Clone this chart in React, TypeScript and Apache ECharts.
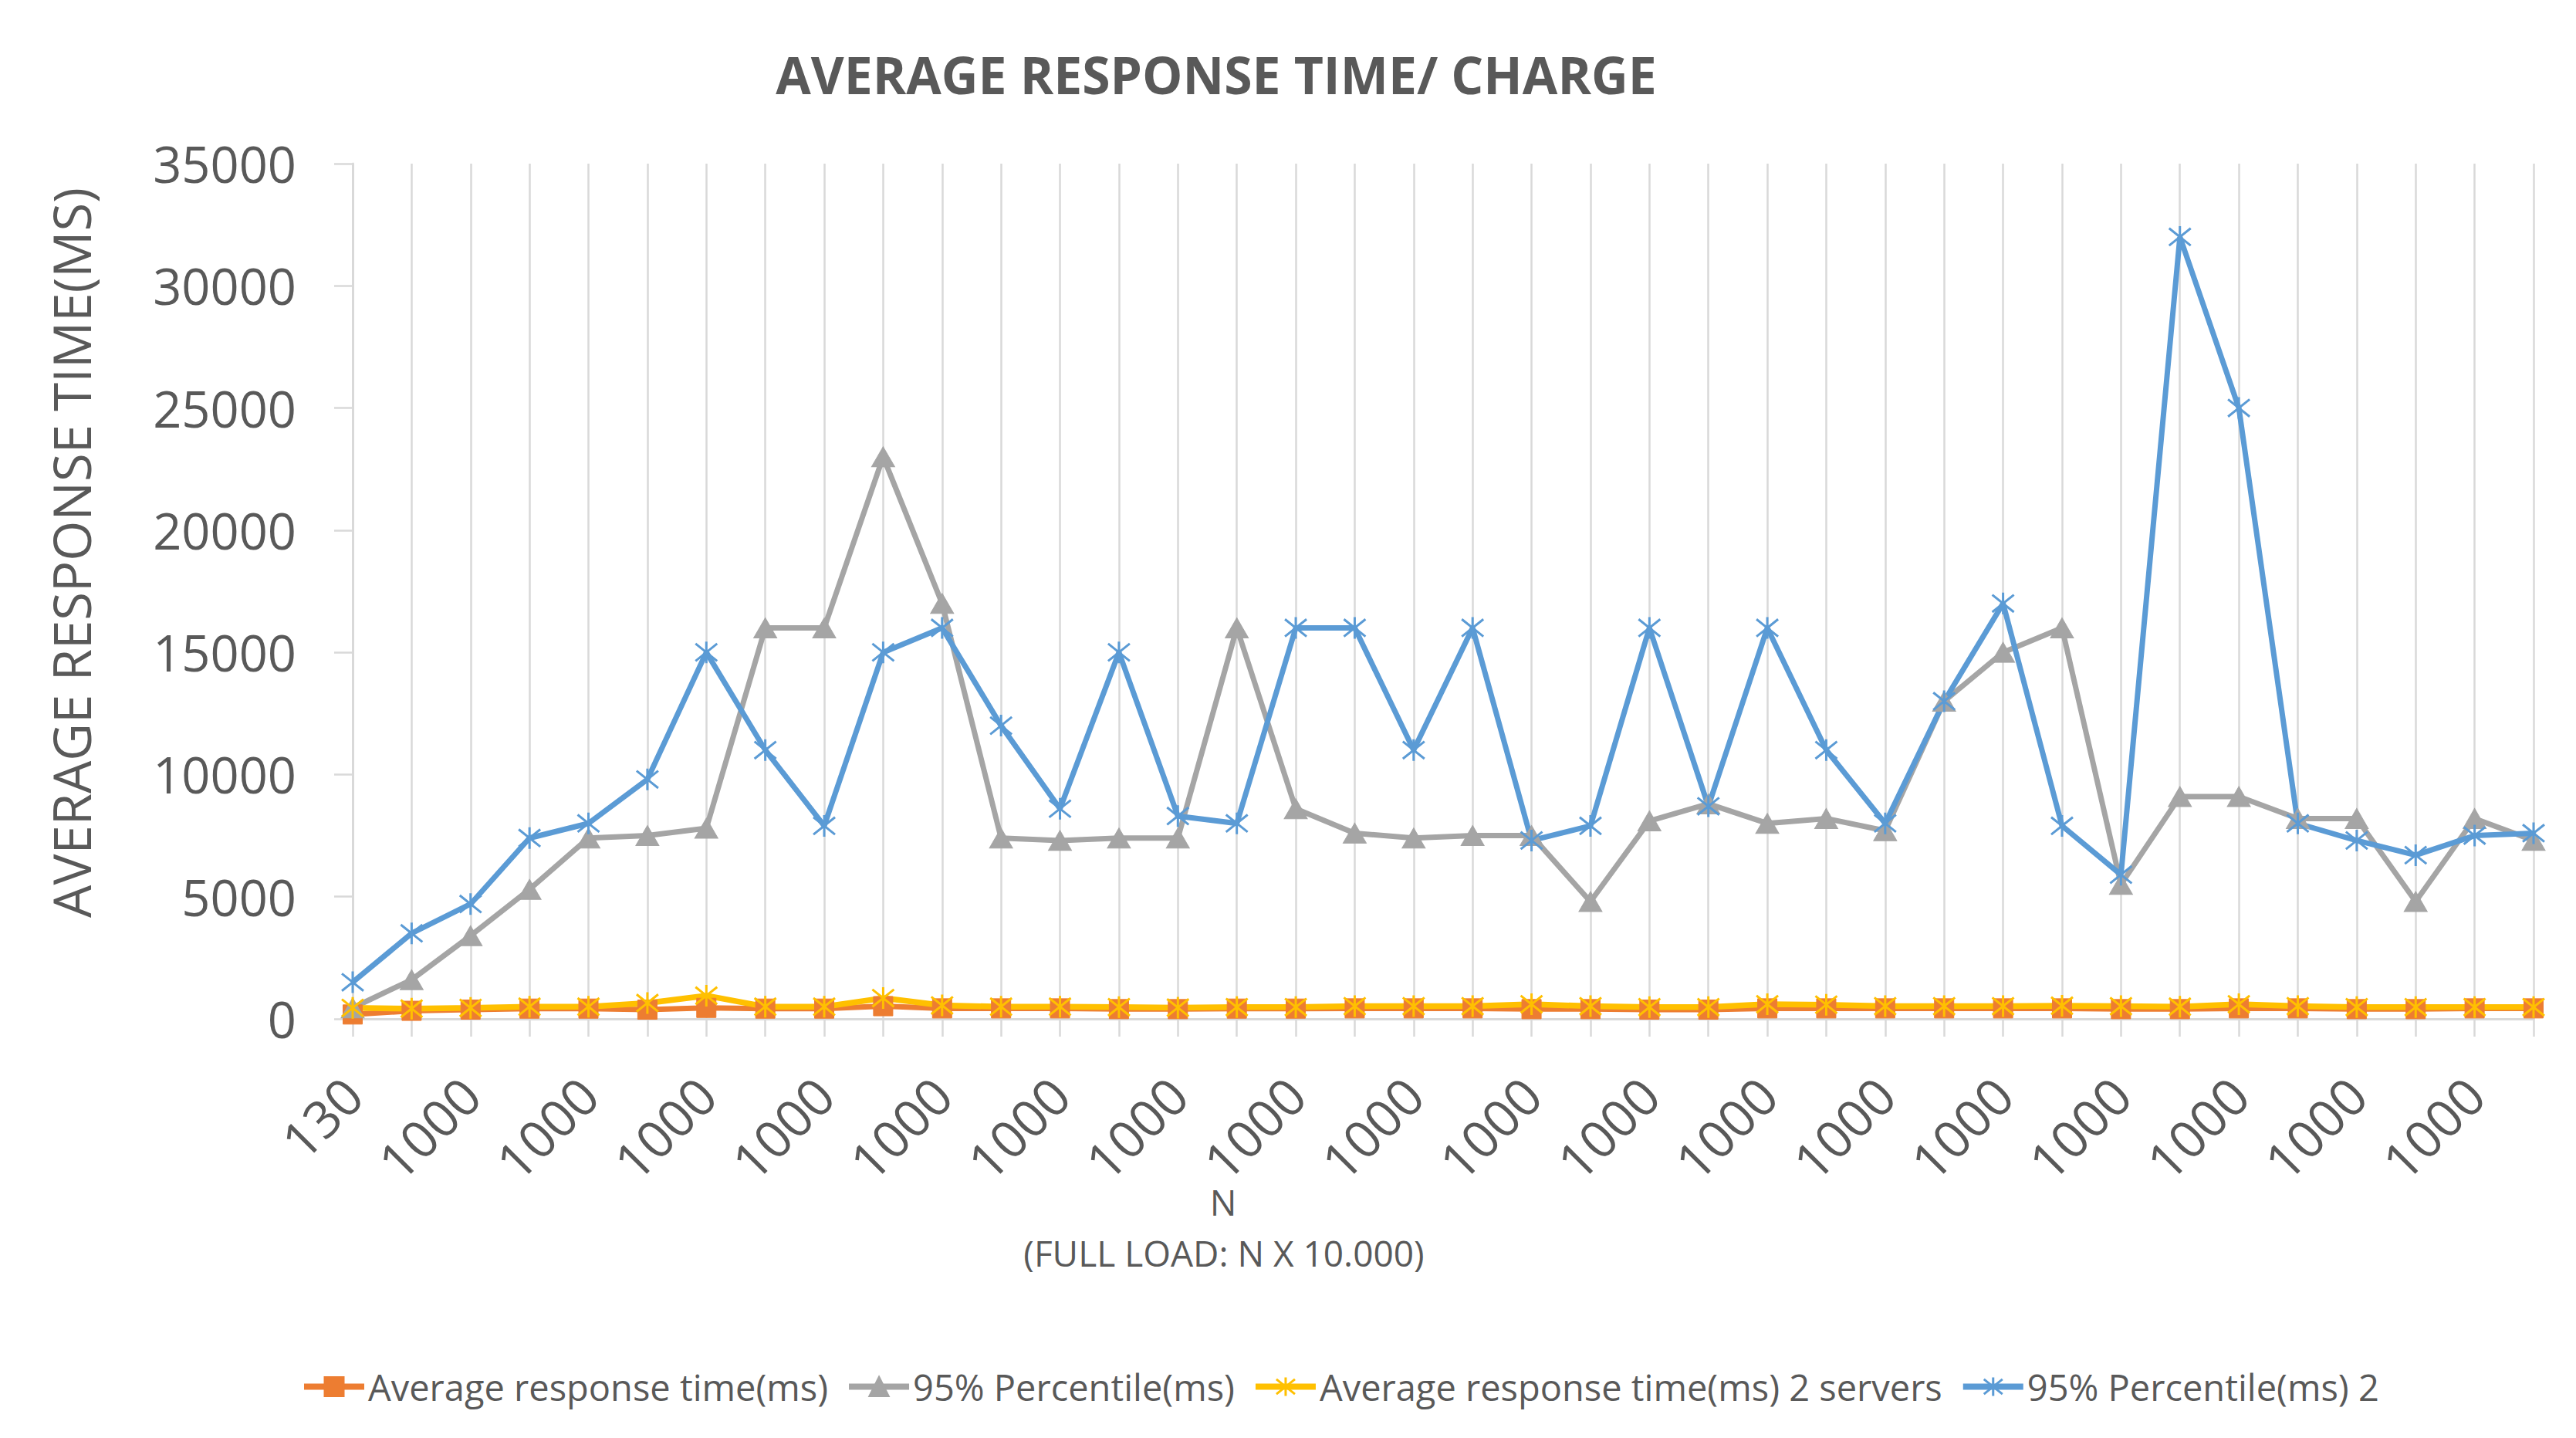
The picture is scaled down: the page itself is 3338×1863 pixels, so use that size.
import React, { useEffect, useRef } from "react";
import * as echarts from "echarts";

// ---------- data ----------
const chartTitle = "AVERAGE RESPONSE TIME/ CHARGE";
const yAxisTitle = "AVERAGE RESPONSE TIME(MS)";
const xAxisTitle = "N";
const xAxisSubtitle = "(FULL LOAD: N X 10.000)";

const categories = [
  "130", "1000", "1000", "1000", "1000", "1000", "1000", "1000", "1000", "1000",
  "1000", "1000", "1000", "1000", "1000", "1000", "1000", "1000", "1000", "1000",
  "1000", "1000", "1000", "1000", "1000", "1000", "1000", "1000", "1000", "1000",
  "1000", "1000", "1000", "1000", "1000", "1000", "1000", "1000",
];

const seriesNames = [
  "Average response time(ms)",
  "95% Percentile(ms)",
  "Average response time(ms) 2 servers",
  "95% Percentile(ms) 2",
];

const avgResponse = [
  180, 330, 380, 420, 420, 380, 450, 420, 420, 520,
  430, 430, 430, 400, 400, 420, 420, 430, 430, 430,
  400, 400, 380, 380, 430, 430, 430, 430, 430, 430,
  400, 400, 430, 430, 400, 400, 430, 430,
];

const percentile95 = [
  450, 1600, 3400, 5300, 7400, 7500, 7800, 16000, 16000, 23000,
  17000, 7400, 7300, 7400, 7400, 16000, 8600, 7600, 7400, 7500,
  7500, 4800, 8100, 8800, 8000, 8200, 7700, 13000, 15000, 16000,
  5500, 9100, 9100, 8200, 8200, 4800, 8200, 7300,
];

const avgResponse2 = [
  450, 420, 450, 500, 500, 650, 950, 500, 500, 850,
  550, 500, 500, 480, 460, 480, 480, 520, 520, 520,
  600, 520, 480, 480, 600, 580, 520, 520, 520, 540,
  520, 500, 600, 520, 480, 480, 480, 480,
];

const percentile95b = [
  1500, 3500, 4700, 7400, 8000, 9800, 15000, 11000, 7900, 15000,
  16000, 12000, 8600, 15000, 8300, 8000, 16000, 16000, 11000, 16000,
  7300, 7900, 16000, 8700, 16000, 11000, 8000, 13000, 17000, 7900,
  5900, 32000, 25000, 8000, 7300, 6700, 7500, 7600,
];

const yMin = 0;
const yMax = 35000;
const yInterval = 5000;

// ---------- styles ----------
const FONT = "'Open Sans', 'Noto Sans', sans-serif";
const TEXT = "#595959";
const GRID = "#D9D9D9";
const ORANGE = "#ED7D31";
const GRAY = "#A5A5A5";
const YELLOW = "#FFC000";
const BLUE = "#5B9BD5";
const STAR = "path://M2,2L18,18M18,2L2,18M10,0L10,20";

export default function App() {
  const ref = useRef<HTMLDivElement>(null);

  useEffect(() => {
    if (!ref.current) return;
    const chart = echarts.init(ref.current, null, { renderer: "svg" });

    const lineSeries = (
      name: string,
      data: number[],
      color: string,
      symbol: string,
      symbolSize: number | number[],
      width: number,
      borderWidth: number
    ) => ({
      name,
      type: "line",
      data,
      symbol,
      symbolSize,
      showSymbol: true,
      showAllSymbol: true,
      lineStyle: { color, width },
      itemStyle: { color, borderColor: color, borderWidth },
      emphasis: { disabled: true },
    });

    chart.setOption({
      animation: false,
      backgroundColor: "#ffffff",
      textStyle: { fontFamily: FONT },
      title: {
        text: chartTitle,
        left: 1576,
        top: 63,
        padding: 0,
        textAlign: "center",
        textVerticalAlign: "top",
        textStyle: {
          fontFamily: FONT,
          fontSize: 66,
          fontWeight: "bold",
          color: TEXT,
        },
      },
      legend: {
        show: true,
        left: 390,
        top: 1773,
        padding: 0,
        itemWidth: 78,
        itemHeight: 30,
        itemGap: 23,
        data: seriesNames,
        textStyle: { fontFamily: FONT, fontSize: 47, color: TEXT },
        lineStyle: { width: 8 },
        itemStyle: { borderWidth: 3 },
      },
      grid: { left: 457, right: 55, top: 212, bottom: 543 },
      xAxis: {
        type: "category",
        data: categories,
        boundaryGap: false,
        axisLine: { show: true, lineStyle: { color: GRID, width: 3 } },
        axisTick: {
          show: true,
          interval: 0,
          length: 23,
          lineStyle: { color: GRID, width: 2.5 },
        },
        splitLine: {
          show: true,
          interval: 0,
          lineStyle: { color: GRID, width: 2.5 },
        },
        axisLabel: {
          interval: 1,
          rotate: 45,
          margin: 87,
          fontSize: 67,
          color: TEXT,
          fontFamily: FONT,
          hideOverlap: false,
        },
      },
      yAxis: {
        type: "value",
        min: yMin,
        max: yMax,
        interval: yInterval,
        axisLine: { show: true, lineStyle: { color: GRID, width: 3 } },
        axisTick: { show: true, length: 24, lineStyle: { color: GRID, width: 2.5 } },
        splitLine: { show: false },
        axisLabel: {
          margin: 73,
          fontSize: 65,
          color: TEXT,
          fontFamily: FONT,
          formatter: (v: number) => String(v),
        },
      },
      graphic: [
        {
          type: "text",
          x: 92,
          y: 716,
          rotation: Math.PI / 2,
          style: {
            text: yAxisTitle,
            fill: TEXT,
            fontSize: 67,
            fontFamily: FONT,
            textAlign: "center",
            textVerticalAlign: "middle",
          },
        },
        {
          type: "text",
          x: 1585,
          y: 1557,
          style: {
            text: xAxisTitle,
            fill: TEXT,
            fontSize: 46,
            fontFamily: FONT,
            textAlign: "center",
            textVerticalAlign: "middle",
          },
        },
        {
          type: "text",
          x: 1586,
          y: 1623,
          style: {
            text: xAxisSubtitle,
            fill: TEXT,
            fontSize: 46,
            fontFamily: FONT,
            textAlign: "center",
            textVerticalAlign: "middle",
          },
        },
      ],
      series: [
        lineSeries(seriesNames[0], avgResponse, ORANGE, "rect", 25, 7, 1),
        lineSeries(seriesNames[1], percentile95, GRAY, "triangle", [30, 26], 7, 1),
        lineSeries(seriesNames[2], avgResponse2, YELLOW, STAR, 28, 7.5, 3),
        lineSeries(seriesNames[3], percentile95b, BLUE, STAR, 28, 7, 3),
      ],
    });

    return () => chart.dispose();
  }, []);

  return (
    <div
      ref={ref}
      style={{ position: "absolute", left: 0, top: 0, width: 3338, height: 1863 }}
    />
  );
}
